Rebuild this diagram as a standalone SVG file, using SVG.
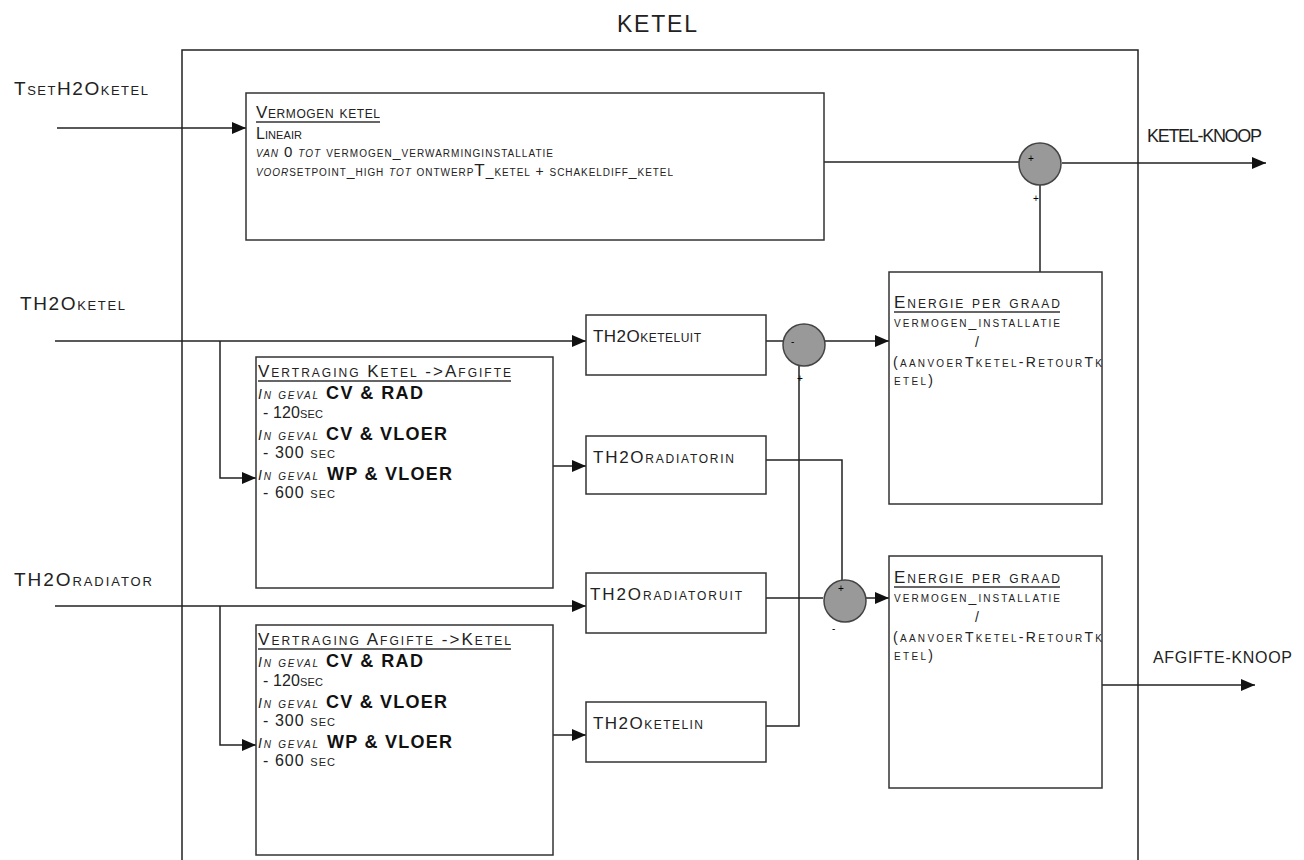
<svg xmlns="http://www.w3.org/2000/svg" width="1304" height="860" viewBox="0 0 1304 860">
<defs>
<marker id="ah" viewBox="0 0 14 12" refX="14" refY="6" markerWidth="14" markerHeight="12" markerUnits="userSpaceOnUse" orient="auto">
<path d="M0,0 L14,6 L0,12 Z" fill="#111"/>
</marker>
</defs>
<style>
text{font-family:"Liberation Sans",Arial,sans-serif;fill:#222;font-variant:small-caps}
.box{fill:#fff;stroke:#333;stroke-width:1.5}
.ln{fill:none;stroke:#222;stroke-width:1.5}
.ul{fill:none;stroke:#333;stroke-width:1.3}
.arr{fill:none;stroke:#222;stroke-width:1.5;marker-end:url(#ah)}
.sum{fill:#999;stroke:#444;stroke-width:1.5}
.in{font-size:19px}
.hd{font-size:17px}
.sm{font-size:14px}
.md{font-size:16px}
.it{font-style:italic}
.b{font-weight:bold;font-size:18px;font-variant:normal;fill:#111}
.bx{font-size:17px}
.sg{font-size:10px;font-variant:normal;fill:#000}
</style>
<rect width="1304" height="860" fill="#fff"/>
<text x="657" y="32" font-size="23" text-anchor="middle" style="font-variant:normal" textLength="80">KETEL</text>
<g id="frame">
<path class="ln" d="M182,860 V50 H1138 V860"/>
</g>
<g id="inputs">
<text class="in" x="14" y="95" textLength="134">TsetH2Oketel</text>
<text class="in" x="20" y="310" textLength="105">TH2Oketel</text>
<text class="in" x="14" y="586" textLength="138">TH2Oradiator</text>
<text x="1147" y="142" font-size="18" style="font-variant:normal" textLength="115">KETEL-KNOOP</text>
<text x="1153" y="663" font-size="16" style="font-variant:normal" textLength="139">AFGIFTE-KNOOP</text>
</g>
<g id="connectors">
<path class="arr" d="M57,128 H246"/>
<path class="ln" d="M824,162 H1019"/>
<path class="arr" d="M1062,163 H1266"/>
<path class="ln" d="M1040,272 V185"/>
<path class="arr" d="M55,341 H586"/>
<path class="arr" d="M220,341 V478 H256"/>
<path class="ln" d="M766,341 H783"/>
<path class="arr" d="M825,341 H889"/>
<path class="ln" d="M799,366 V726 H766"/>
<path class="arr" d="M553,466 H586"/>
<path class="ln" d="M766,460 H842 V580"/>
<path class="arr" d="M55,606 H586"/>
<path class="arr" d="M220,606 V745 H256"/>
<path class="ln" d="M766,598 H823"/>
<path class="arr" d="M866,598 H889"/>
<path class="arr" d="M553,735 H586"/>
<path class="arr" d="M1102,685 H1255"/>
</g>
<g id="vermogen-ketel">
<rect class="box" x="246" y="93" width="578" height="147"/>
<text class="hd" x="256" y="118" textLength="124">Vermogen ketel</text>
<path class="ul" d="M256,122 H380"/>
<text x="256" y="139" font-size="16" textLength="46">Lineair</text>
<text class="sm" x="256" y="157" textLength="297"><tspan class="it">van </tspan><tspan font-size="15">0</tspan><tspan class="it"> tot </tspan>vermogen_verwarminginstallatie</text>
<text class="sm" x="256" y="176" textLength="417"><tspan class="it">voor</tspan>setpoint_high <tspan class="it">tot</tspan> ontwerp<tspan font-size="17">T</tspan>_ketel + schakeldiff_ketel</text>
</g>
<g id="sum1">
<circle class="sum" cx="1040" cy="164" r="21"/>
<text class="sg" x="1028" y="162">+</text>
<text class="sg" x="1033" y="202">+</text>
</g>
<g id="energie1">
<rect class="box" x="889" y="272" width="213" height="232"/>
<text class="hd" x="894" y="308" textLength="166">Energie per graad</text>
<path class="ul" d="M894,312 H1060"/>
<text class="sm" x="894" y="327" textLength="166">vermogen_installatie</text>
<text class="sm" x="975" y="347">/</text>
<text class="sm" x="893" y="367" textLength="209">(aanvoerTketel-RetourTk</text>
<text class="sm" x="894" y="385" textLength="39">etel)</text>
</g>
<g id="th2oketeluit">
<rect class="box" x="586" y="315" width="180" height="60"/>
<text class="bx" x="593" y="342" textLength="108">TH2Oketeluit</text>
</g>
<g id="sum2">
<circle class="sum" cx="804" cy="345" r="21"/>
<text class="sg" x="791" y="345">-</text>
<text class="sg" x="797" y="382">+</text>
</g>
<g id="vertraging-ketel-afgifte">
<rect class="box" x="256" y="357" width="297" height="231"/>
<text class="hd" x="258" y="377" textLength="253">Vertraging Ketel -&gt;Afgifte</text>
<path class="ul" d="M258,381 H511"/>
<text class="sm it" x="258" y="399" textLength="60">In geval</text>
<text class="b" x="326" y="399" textLength="97">CV &amp; RAD</text>
<text class="md" x="263" y="418" textLength="60">- 120sec</text>
<text class="sm it" x="258" y="440" textLength="60">In geval</text>
<text class="b" x="326" y="440" textLength="121">CV &amp; VLOER</text>
<text class="md" x="263" y="458" textLength="72">- 300 sec</text>
<text class="sm it" x="258" y="480" textLength="60">In geval</text>
<text class="b" x="327" y="480" textLength="125">WP &amp; VLOER</text>
<text class="md" x="263" y="498" textLength="72">- 600 sec</text>
</g>
<g id="th2oradiatorin">
<rect class="box" x="586" y="436" width="180" height="58"/>
<text class="bx" x="593" y="463" textLength="141">TH2Oradiatorin</text>
</g>
<g id="th2oradiatoruit">
<rect class="box" x="586" y="573" width="180" height="60"/>
<text class="bx" x="590" y="600" textLength="152">TH2Oradiatoruit</text>
</g>
<g id="sum3">
<circle class="sum" cx="845" cy="601" r="21"/>
<text class="sg" x="838" y="592">+</text>
<text class="sg" x="832" y="632">-</text>
</g>
<g id="energie2">
<rect class="box" x="889" y="556" width="213" height="232"/>
<text class="hd" x="894" y="583" textLength="166">Energie per graad</text>
<path class="ul" d="M894,587 H1060"/>
<text class="sm" x="894" y="602" textLength="166">vermogen_installatie</text>
<text class="sm" x="975" y="622">/</text>
<text class="sm" x="893" y="642" textLength="209">(aanvoerTketel-RetourTk</text>
<text class="sm" x="894" y="660" textLength="39">etel)</text>
</g>
<g id="vertraging-afgifte-ketel">
<rect class="box" x="256" y="625" width="297" height="230"/>
<text class="hd" x="258" y="645" textLength="253">Vertraging Afgifte -&gt;Ketel</text>
<path class="ul" d="M258,649 H511"/>
<text class="sm it" x="258" y="667" textLength="60">In geval</text>
<text class="b" x="326" y="667" textLength="97">CV &amp; RAD</text>
<text class="md" x="263" y="686" textLength="60">- 120sec</text>
<text class="sm it" x="258" y="708" textLength="60">In geval</text>
<text class="b" x="326" y="708" textLength="121">CV &amp; VLOER</text>
<text class="md" x="263" y="726" textLength="72">- 300 sec</text>
<text class="sm it" x="258" y="748" textLength="60">In geval</text>
<text class="b" x="327" y="748" textLength="125">WP &amp; VLOER</text>
<text class="md" x="263" y="766" textLength="72">- 600 sec</text>
</g>
<g id="th2oketelin">
<rect class="box" x="586" y="702" width="180" height="60"/>
<text class="bx" x="593" y="729" textLength="110">TH2Oketelin</text>
</g>
</svg>
